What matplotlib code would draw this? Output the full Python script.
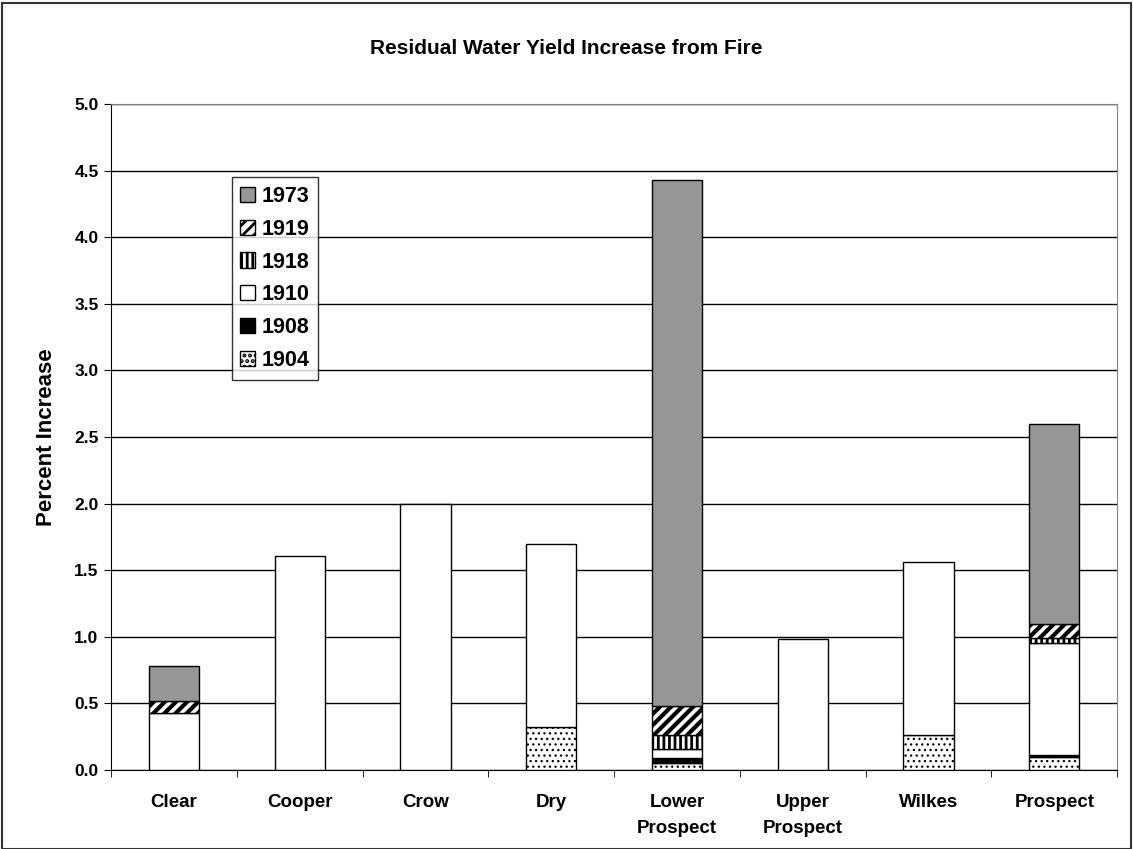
#stacked bars of residual water yield increase by fire year

#import necessary
from matplotlib import pyplot as plt
from matplotlib.patches import Rectangle
import numpy as np

#data
basins = ['Clear','Cooper','Crow','Dry','Lower\nProspect','Upper\nProspect','Wilkes','Prospect']
years = ['1904','1908','1910','1918','1919','1973']
y1904 = [0.0, 0.0, 0.0, 0.325, 0.055, 0.0, 0.26, 0.10]
y1908 = [0.0, 0.0, 0.0, 0.0, 0.035, 0.0, 0.0, 0.015]
y1910 = [0.43, 1.61, 2.0, 1.375, 0.07, 0.98, 1.30, 0.84]
y1918 = [0.0, 0.0, 0.0, 0.0, 0.10, 0.0, 0.0, 0.04]
y1919 = [0.09, 0.0, 0.0, 0.0, 0.22, 0.0, 0.0, 0.10]
y1973 = [0.26, 0.0, 0.0, 0.0, 3.95, 0.0, 0.0, 1.50]

series = [y1904,y1908,y1910,y1918,y1919,y1973]
faces = ['white','black','white','white','white','#969696']
hatches = ['...',None,None,'|||','///',None]
hlw = [0.9,1,1,2.0,3.0,1]

plt.rcParams['font.family'] = ['Liberation Sans','DejaVu Sans']
plt.rcParams['font.weight'] = 'bold'
plt.rcParams['hatch.linewidth'] = 2.0

fig = plt.figure(figsize=(11.33,8.49),dpi=100)
ax = fig.add_axes([0.098,0.093,0.888,0.7845])
fig.patches.append(Rectangle((0.002,0.0),0.996,0.997,transform=fig.transFigure,
                             fill=False,edgecolor='#333333',linewidth=1.5))

x = np.arange(len(basins))
bottom = np.zeros(len(basins))
handles = []
for vals,fc,h,lw,yr in zip(series,faces,hatches,hlw,years):
    vals = np.array(vals)
    shown = np.where(vals > 0,vals,np.nan)      #skip empty segments so no stray edges
    b = ax.bar(x,shown,width=0.4,bottom=bottom,color=fc,edgecolor='black',
               hatch=h,linewidth=1,label=yr,zorder=3)
    for p in b.patches:
        if hasattr(p,'set_hatch_linewidth'):
            p.set_hatch_linewidth(lw)
    handles.append(b)
    bottom = bottom+vals

ax.set_xlim(-0.5,len(basins)-0.5)
ax.set_ylim(0,5)
ax.set_yticks(np.arange(0,5.01,0.5))
ax.set_yticklabels(['%.1f' % v for v in np.arange(0,5.01,0.5)],fontsize=12.5,fontweight='bold')
ax.set_xticks(x)
ax.set_xticklabels(basins,fontsize=13.5,fontweight='bold',linespacing=1.7)
ax.set_xticks(np.arange(-0.5,len(basins),1),minor=True)
ax.tick_params(axis='x',which='major',length=0,pad=17)
ax.tick_params(axis='x',which='minor',length=5,direction='out')
ax.tick_params(axis='y',length=5,direction='out',pad=4)
ax.yaxis.grid(True,color='black',linewidth=1,zorder=0)
ax.set_axisbelow(True)
for s in ['top','right']:
    ax.spines[s].set_color('#808080')
ax.spines['left'].set_color('black')
ax.spines['bottom'].set_color('black')

ax.set_ylabel('Percent Increase',fontsize=16,fontweight='bold',labelpad=12)
fig.text(0.5,0.943,'Residual Water Yield Increase from Fire',ha='center',va='center',
         fontsize=15,fontweight='bold')

leg = ax.legend(handles[::-1],years[::-1],loc='upper left',bbox_to_anchor=(0.120,0.890),
                fontsize=15.5,frameon=True,fancybox=False,edgecolor='black',
                handlelength=0.7,handleheight=0.7,handletextpad=0.3,labelspacing=0.55,
                borderpad=0.4,borderaxespad=0)
leg.get_frame().set_linewidth(1)
for t in leg.get_texts():
    t.set_fontweight('bold')

fig.savefig('out.png',dpi=100)
